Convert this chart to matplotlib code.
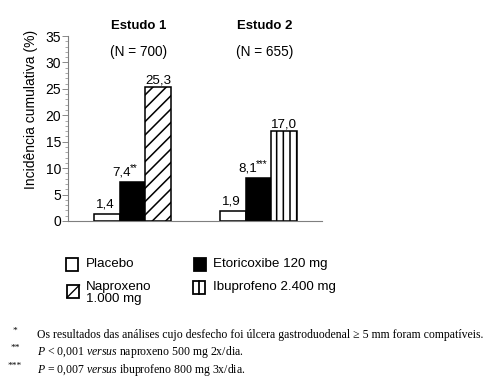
import numpy as np
import matplotlib
matplotlib.use("Agg")
import matplotlib.pyplot as plt
from matplotlib.patches import Rectangle

plt.rcParams['font.family'] = ['Liberation Sans', 'DejaVu Sans']
plt.rcParams['mathtext.fontset'] = 'custom'
plt.rcParams['mathtext.rm'] = 'Liberation Serif'
plt.rcParams['mathtext.it'] = 'Liberation Serif:italic'
plt.rcParams['hatch.linewidth'] = 1.4

# dados
estudos = ["Estudo 1", "Estudo 2"]
n_pacientes = ["(N = 700)", "(N = 655)"]
placebo = [1.4, 1.9]
etoricoxibe = [7.4, 8.1]
comparador = [25.3, 17.0]
rot_placebo = ["1,4", "1,9"]
rot_etori = ["7,4", "8,1"]
estrelas = ["**", "***"]
rot_comp = ["25,3", "17,0"]
hatch_comp = ["//", "||"]

legenda = ["Placebo", "Etoricoxibe 120 mg", "Naproxeno\n1.000 mg", "Ibuprofeno 2.400 mg"]

DPI = 80
W, H = 491, 382
fig = plt.figure(figsize=(W / DPI, H / DPI), dpi=DPI)

# eixo principal (em pixels da figura)
x0, x1, y0, y1 = 68, 322, 221, 36
ax = fig.add_axes([x0 / W, 1 - y0 / H, (x1 - x0) / W, (y0 - y1) / H])

centros = np.arange(len(estudos))
w = 0.204
ax.bar(centros - w, placebo, w, color="white", edgecolor="black", linewidth=1.4)
ax.bar(centros, etoricoxibe, w, color="black", edgecolor="black", linewidth=1.4)
for i in range(len(estudos)):
    ax.bar(centros[i] + w, comparador[i], w, color="white", edgecolor="black",
           linewidth=1.4, hatch=hatch_comp[i])

ax.set_xlim(-0.512, 1.504)
ax.set_ylim(0, 35)
ax.set_yticks(np.arange(0, 36, 5))
ax.set_yticks(np.arange(0, 36, 1), minor=True)
ax.set_xticks([])
for s in ["top", "right"]:
    ax.spines[s].set_visible(False)
for s in ["left", "bottom"]:
    ax.spines[s].set_color("#7f7f7f")
    ax.spines[s].set_linewidth(1.0)
ax.tick_params(axis="y", which="major", length=5, color="#7f7f7f", labelsize=12.5, pad=1)
ax.tick_params(axis="y", which="minor", length=3, color="#7f7f7f")

# rótulos das barras
for i in range(len(estudos)):
    ax.annotate(rot_placebo[i], (centros[i] - w, placebo[i]), xytext=(-1, 3),
                textcoords="offset points", ha="center", va="bottom", fontsize=12)
    ax.annotate(rot_etori[i], (centros[i] + w / 2, etoricoxibe[i]), xytext=(-13, 3),
                textcoords="offset points", ha="right", va="bottom", fontsize=12)
    ax.annotate(estrelas[i], (centros[i] + w / 2, etoricoxibe[i]), xytext=(-13.5, 8),
                textcoords="offset points", ha="left", va="bottom", fontsize=9)
    ax.annotate(rot_comp[i], (centros[i] + w, comparador[i]), xytext=(0, 1),
                textcoords="offset points", ha="center", va="bottom", fontsize=12)

# camada em pixels para títulos, legenda e notas
ov = fig.add_axes([0, 0, 1, 1])
ov.set_xlim(0, W)
ov.set_ylim(H, 0)
ov.axis("off")
ov.patch.set_visible(False)

ov.text(31, 109, "Incidência cumulativa (%)", rotation=90, ha="center", va="center", fontsize=12.5)
for i, (tx, nx) in enumerate(zip(estudos, n_pacientes)):
    cx = [139, 265][i]
    ov.text(cx, 26, tx, ha="center", va="center", fontsize=11.8, fontweight="bold")
    ov.text(cx, 52, nx, ha="center", va="center", fontsize=12.3)

caixas = [(66, 258), (194, 258), (67, 285), (193, 281)]
cores = ["white", "black", "white", "white"]
txt_pos = [(86, 264), (213, 264), (86, 293), (213, 287)]
lado = 12.5
for (bx, by), fc, (tx, ty), lab in zip(caixas, cores, txt_pos, legenda):
    ov.add_patch(Rectangle((bx, by), lado, lado, facecolor=fc, edgecolor="black", linewidth=1.6))
    ov.text(tx, ty, lab, ha="left", va="center", fontsize=12, linespacing=1.0)
# marcas das caixas com padrão
ov.plot([67, 67 + lado], [285 + lado, 285], color="black", lw=1.2)
ov.plot([193 + lado / 2] * 2, [281, 281 + lado], color="black", lw=1.6)

notas = [
    ("*", "Os resultados das análises cujo desfecho foi úlcera gastroduodenal ≥ 5 mm foram compatíveis."),
    ("**", r"$\it{P}$ < 0,001 $\it{versus}$ naproxeno 500 mg 2x/dia."),
    ("***", r"$\it{P}$ = 0,007 $\it{versus}$ ibuprofeno 800 mg 3x/dia."),
]
for k, (m, t) in enumerate(notas):
    yy = [335, 352, 370][k]
    ov.text(15, yy - 4, m, ha="center", va="center", fontsize=8.5, family="Liberation Serif")
    ov.text(37, yy, t, ha="left", va="center", fontsize=10.6, family="Liberation Serif")

fig.savefig("out.png", dpi=DPI, facecolor="white")
